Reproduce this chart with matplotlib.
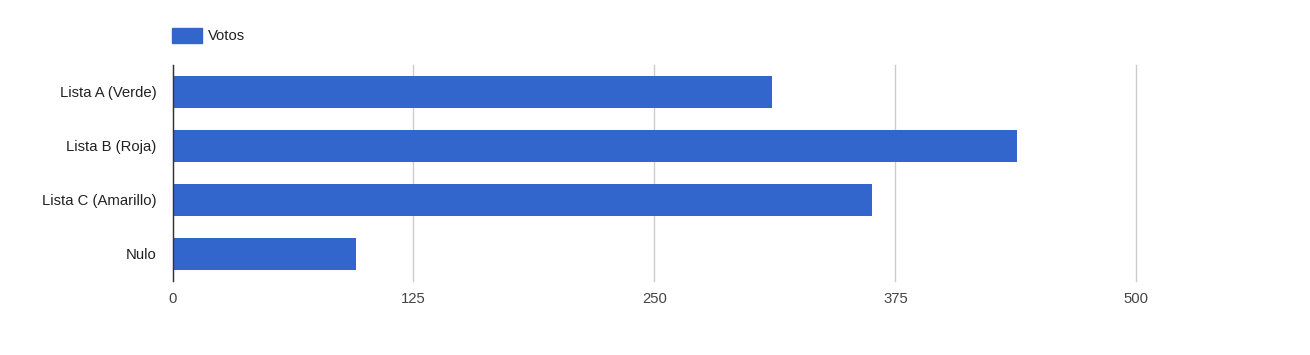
import matplotlib
matplotlib.use("Agg")
import matplotlib.pyplot as plt
from matplotlib.patches import Rectangle

# Datos
categorias = ["Lista A (Verde)", "Lista B (Roja)", "Lista C (Amarillo)", "Nulo"]
votos = [311, 438, 363, 95]
ticks_x = [0, 125, 250, 375, 500]
serie = "Votos"

plt.rcParams['font.family'] = ['Liberation Sans', 'DejaVu Sans']

fig = plt.figure(figsize=(13.1, 3.55), dpi=100)
ax = fig.add_axes([0.1317, 0.2085, 0.8674 - 0.1317, 0.8169 - 0.2085])

pos = list(range(len(categorias)))
ax.barh(pos, votos, height=0.61, color="#3366cc", zorder=2)
ax.set_ylim(len(categorias) - 0.5, -0.5)
ax.set_xlim(0, 500)

ax.set_xticks(ticks_x)
ax.set_xticklabels([str(t) for t in ticks_x], fontsize=10.7, color="#444444")
ax.set_yticks(pos)
ax.set_yticklabels(categorias, fontsize=10.7, color="#222222")
ax.tick_params(axis='both', length=0)
ax.tick_params(axis='y', pad=11.5)
ax.tick_params(axis='x', pad=8)

ax.grid(axis='x', color="#cccccc", linewidth=1, zorder=0)
for gl in ax.get_xgridlines():
    gl.set_clip_on(False)
for s in ["top", "right", "bottom"]:
    ax.spines[s].set_visible(False)
ax.spines["left"].set_color("#333333")
ax.spines["left"].set_linewidth(1)
ax.spines["left"].set_zorder(3)

# leyenda arriba a la izquierda
fig.patches.append(Rectangle((172 / 1310, 1 - 43 / 355), 30 / 1310, 15 / 355,
                             transform=fig.transFigure, color="#3366cc"))
fig.text(208 / 1310, 1 - 35.5 / 355, serie, fontsize=10.7, color="#222222", va="center")

fig.savefig("out.png", dpi=100)
